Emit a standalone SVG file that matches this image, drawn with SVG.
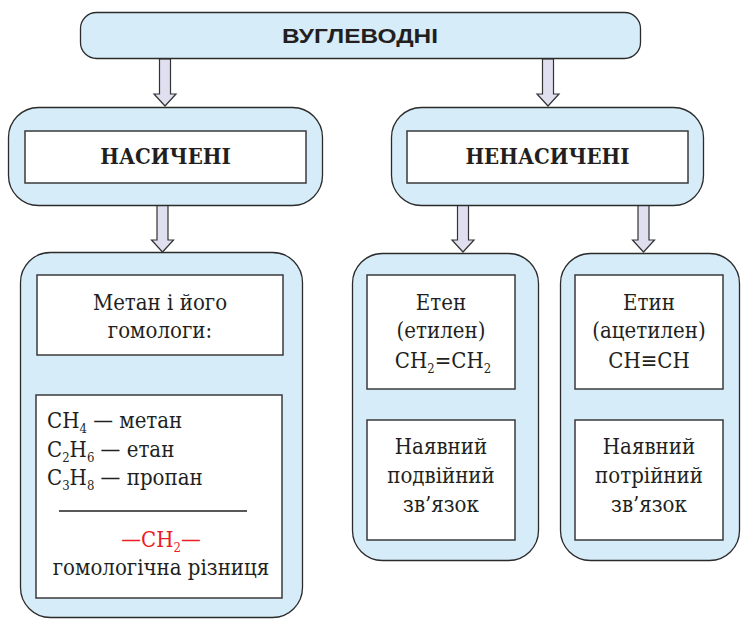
<svg xmlns="http://www.w3.org/2000/svg" width="741" height="619" viewBox="0 0 741 619">
<defs>
<style>
.outer{fill:#d6ecf9;stroke:#2b2b2b;stroke-width:1.3}
.inner{fill:#ffffff;stroke:#3a3a3a;stroke-width:1.5}
.arr{fill:#dfdff0;stroke:#333;stroke-width:1.2;stroke-linejoin:miter}
.t{font-family:"DejaVu Serif Condensed","DejaVu Serif",serif;font-size:22px;fill:#231f20}
.h{font-family:"DejaVu Serif Condensed","DejaVu Serif",serif;font-size:22px;font-weight:bold;fill:#231f20;text-anchor:middle}
.c{text-anchor:middle}
.sub{font-size:13px}
</style>
</defs>
<rect width="741" height="619" fill="#ffffff"/>
<g id="connectors">
<path class="arr" d="M159.5,59 H170.5 V94 H176 L165,106 L154,94 H159.5 Z"/>
<path class="arr" d="M542.5,59 H553.5 V94 H559 L548,106 L537,94 H542.5 Z"/>
<path class="arr" d="M157,205 H168 V240 H173.5 L162.5,252 L151.5,240 H157 Z"/>
<path class="arr" d="M457.5,205 H468.5 V240 H474 L463,252 L452,240 H457.5 Z"/>
<path class="arr" d="M638,205 H649 V240 H654.5 L643.5,252 L632.5,240 H638 Z"/>
</g>
<g id="root">
<rect class="outer" x="80.5" y="12.5" width="560" height="46" rx="16"/>
<text x="360" y="43" text-anchor="middle" font-family="'Liberation Sans',Arial,sans-serif" font-weight="bold" font-size="21" fill="#231f20" textLength="156" lengthAdjust="spacingAndGlyphs">ВУГЛЕВОДНІ</text>
</g>
<g id="saturated">
<rect class="outer" x="8.5" y="107.5" width="314" height="98" rx="30"/>
<rect class="inner" x="25" y="131" width="281" height="52"/>
<text class="h" x="165.5" y="164">НАСИЧЕНІ</text>
</g>
<g id="unsaturated">
<rect class="outer" x="391.5" y="107.5" width="312" height="98" rx="30"/>
<rect class="inner" x="407" y="131" width="281" height="52"/>
<text class="h" x="547.5" y="164">НЕНАСИЧЕНІ</text>
</g>
<g id="methane">
<rect class="outer" x="20.5" y="252.5" width="282" height="365" rx="30"/>
<rect class="inner" x="37" y="275" width="246" height="80"/>
<text class="t c" x="160" y="310">Метан і його</text>
<text class="t c" x="160" y="338">гомологи:</text>
<rect class="inner" x="36" y="395" width="246" height="203"/>
<text class="t" x="47" y="428">CH<tspan class="sub" dy="5">4</tspan><tspan dy="-5"> — метан</tspan></text>
<text class="t" x="47" y="457">C<tspan class="sub" dy="5">2</tspan><tspan dy="-5">H</tspan><tspan class="sub" dy="5">6</tspan><tspan dy="-5"> — етан</tspan></text>
<text class="t" x="47" y="485">C<tspan class="sub" dy="5">3</tspan><tspan dy="-5">H</tspan><tspan class="sub" dy="5">8</tspan><tspan dy="-5"> — пропан</tspan></text>
<line x1="59" y1="511" x2="247" y2="511" stroke="#231f20" stroke-width="1.3"/>
<text class="t c" x="161" y="547" style="fill:#ed1c24">—CH<tspan class="sub" dy="5">2</tspan><tspan dy="-5">—</tspan></text>
<text class="t c" x="161" y="575">гомологічна різниця</text>
</g>
<g id="ethene">
<rect class="outer" x="352.5" y="253.5" width="186" height="307" rx="30"/>
<rect class="inner" x="367" y="275" width="148" height="114"/>
<text class="t c" x="441" y="310">Етен</text>
<text class="t c" x="441" y="338">(етилен)</text>
<text class="t c" x="443" y="368">CH<tspan class="sub" dy="5">2</tspan><tspan dy="-5">=CH</tspan><tspan class="sub" dy="5">2</tspan></text>
<rect class="inner" x="367" y="420" width="148" height="120"/>
<text class="t c" x="441" y="454">Наявний</text>
<text class="t c" x="441" y="483">подвійний</text>
<text class="t c" x="441" y="512">зв’язок</text>
</g>
<g id="ethyne">
<rect class="outer" x="560.5" y="253.5" width="179" height="307" rx="30"/>
<rect class="inner" x="575" y="275" width="148" height="114"/>
<text class="t c" x="649" y="310">Етин</text>
<text class="t c" x="649" y="338">(ацетилен)</text>
<text class="t c" x="649" y="368">CH≡CH</text>
<rect class="inner" x="575" y="420" width="148" height="120"/>
<text class="t c" x="649" y="454">Наявний</text>
<text class="t c" x="649" y="483">потрійний</text>
<text class="t c" x="649" y="512">зв’язок</text>
</g>
</svg>
